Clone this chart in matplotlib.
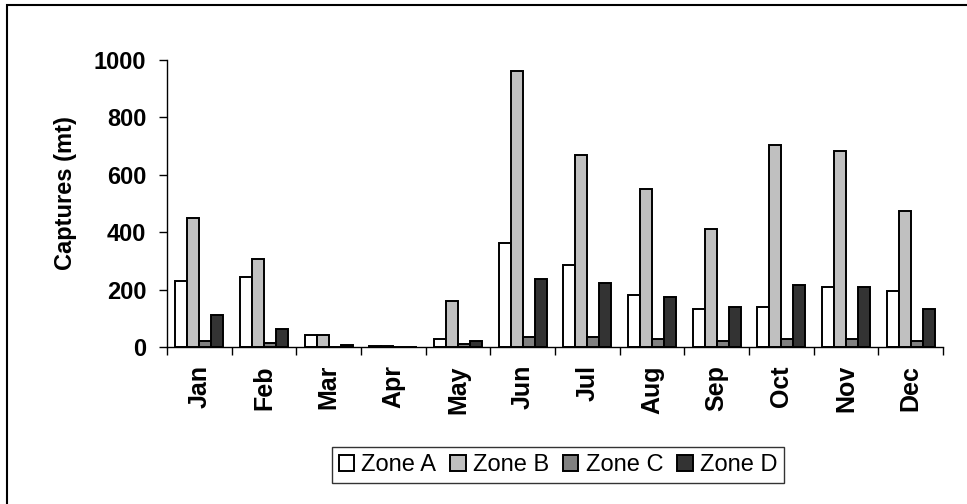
import matplotlib
matplotlib.use("Agg")
import matplotlib.pyplot as plt
import numpy as np
from matplotlib.patches import Rectangle

months = ["Jan", "Feb", "Mar", "Apr", "May", "Jun", "Jul", "Aug", "Sep", "Oct", "Nov", "Dec"]
zone_a = [230, 245, 42, 5, 28, 361, 285, 181, 132, 139, 209, 195]
zone_b = [450, 306, 42, 5, 160, 960, 669, 550, 411, 704, 683, 474]
zone_c = [22, 15, 0, 0, 10, 35, 36, 27, 20, 27, 27, 20]
zone_d = [111, 63, 7, 0, 22, 237, 222, 174, 139, 216, 209, 132]
series_names = ["Zone A", "Zone B", "Zone C", "Zone D"]
colors = ["#ffffff", "#c0c0c0", "#808080", "#333333"]
yticks = [0, 200, 400, 600, 800, 1000]

plt.rcParams['font.family'] = ['Liberation Sans', 'DejaVu Sans']
FS = 17

fig = plt.figure(figsize=(9.67, 5.04), dpi=100)
ax = fig.add_axes([167/967, 1-347/504, (943-167)/967, (347-60)/504])

x = np.arange(len(months))
w = 0.185
data = [zone_a, zone_b, zone_c, zone_d]
for i, (vals, c, name) in enumerate(zip(data, colors, series_names)):
    ax.bar(x + (i - 1.5) * w, vals, width=w, color=c, edgecolor="black",
           linewidth=1.4, label=name)

ax.set_xlim(-0.5, len(months) - 0.5)
ax.set_ylim(0, 1000)
ax.set_yticks(yticks)
ax.set_yticklabels([str(v) for v in yticks], fontsize=FS, fontweight="bold")
ax.set_xticks(np.arange(-0.5, len(months) + 0.5, 1), minor=False)
ax.set_xticklabels([])
ax.set_xticks(x, minor=True)
ax.set_xticklabels(months, minor=True, rotation=90, fontsize=18, fontweight="bold")
ax.tick_params(axis="x", which="major", length=6, width=1, direction="out")
ax.tick_params(axis="x", which="minor", length=0, pad=13)
ax.tick_params(axis="y", length=6, width=1, direction="out", pad=9)
ax.spines["top"].set_visible(False)
ax.spines["right"].set_visible(False)
ax.spines["left"].set_linewidth(1)
ax.spines["bottom"].set_linewidth(1)
ax.set_ylabel("Captures (mt)", fontsize=FS, fontweight="bold", labelpad=12)
ax.yaxis.label.set_y(0.535)

leg = fig.legend(loc="center", bbox_to_anchor=(558/967, 1-465/504), ncol=4,
                 fontsize=FS, frameon=True, fancybox=False, handlelength=0.65,
                 handleheight=0.65, handletextpad=0.3, columnspacing=0.6,
                 borderpad=0.3, borderaxespad=0)
leg.get_frame().set_edgecolor("black")
leg.get_frame().set_linewidth(1)

fig.patches.append(Rectangle((7/967, -0.1), 2, 1 - 5/504 + 0.1, transform=fig.transFigure,
                             fill=False, edgecolor="black", linewidth=1.5))

fig.savefig("out.png", dpi=100)
